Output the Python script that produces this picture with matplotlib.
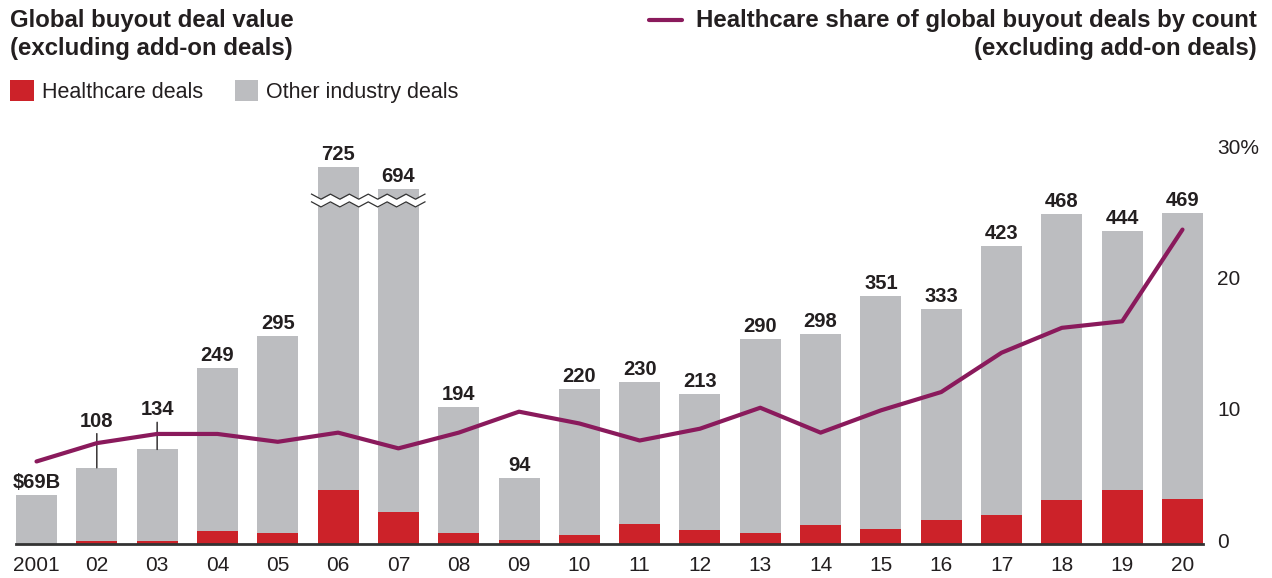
import numpy as np
import matplotlib.pyplot as plt
from matplotlib.patches import Rectangle
from matplotlib.lines import Line2D
from matplotlib.transforms import ScaledTranslation

plt.rcParams['font.family'] = ['Liberation Sans', 'DejaVu Sans']

# data
years = ['2001', '02', '03', '04', '05', '06', '07', '08', '09', '10',
         '11', '12', '13', '14', '15', '16', '17', '18', '19', '20']
total_value = [69, 108, 134, 249, 295, 725, 694, 194, 94, 220,
               230, 213, 290, 298, 351, 333, 423, 468, 444, 469]
healthcare_value = [0, 4, 4, 19, 16, 76, 46, 15, 5, 13,
                    29, 20, 15, 27, 21, 34, 41, 63, 77, 64]
healthcare_share = [6.3, 7.7, 8.4, 8.4, 7.8, 8.5, 7.3, 8.5, 10.1, 9.2,
                    7.9, 8.8, 10.4, 8.5, 10.2, 11.6, 14.6, 16.5, 17.0, 24.0]
value_labels = ['$69B', '108', '134', '249', '295', '725', '694', '194', '94', '220',
                '230', '213', '290', '298', '351', '333', '423', '468', '444', '469']

RED = '#CC2229'
GRAY = '#BCBDC0'
PURPLE = '#8A1A5C'
TXT = '#231F20'

W, H = 1272, 578
fig = plt.figure(figsize=(W / 100, H / 100), dpi=100)

# axis break: bars above the threshold are drawn shorter by `cut`
cut = 190
break_at = 487
total = np.array(total_value, dtype=float)
hc = np.array(healthcare_value, dtype=float)
drawn = np.where(total > 600, total - cut, total)
x = np.arange(len(years))
bw = 0.68

ax = fig.add_axes([16 / W, 1 - 544 / H, (1203 - 16) / W, (544 - 130) / H])
ax.bar(x, hc, width=bw, color=RED, zorder=2)
ax.bar(x, drawn - hc, bottom=hc, width=bw, color=GRAY, zorder=2)
ax.set_xlim(-bw / 2, len(years) - 1 + bw / 2)
ax.set_ylim(0, 587)
for s in ['top', 'left', 'right']:
    ax.spines[s].set_visible(False)
ax.spines['bottom'].set_color('#333333')
ax.spines['bottom'].set_linewidth(2)
ax.spines['bottom'].set_zorder(5)
ax.set_yticks([])
ax.set_xticks(x, years)
ax.tick_params(axis='x', length=0, pad=8.5, labelsize=15, labelcolor=TXT)

# value labels, 02 and 03 lifted with leader lines
lift = {1: 37, 2: 30}
for i, lab in enumerate(value_labels):
    off = lift.get(i, 3)
    kw = {}
    if i in lift:
        kw['arrowprops'] = dict(arrowstyle='-', color=TXT, lw=1, shrinkA=0, shrinkB=0)
    ax.annotate(lab, (i, drawn[i]), xytext=(0, off * 0.72), textcoords='offset points',
                ha='center', va='bottom', fontsize=14.5, fontweight='bold', color=TXT,
                zorder=6, **kw)

# break marker across the two tall bars
xb = np.linspace(5 - bw / 2 - 0.1, 6 + bw / 2 + 0.1, 13)
amp = 3.6
zig = np.where(np.arange(len(xb)) % 2 == 0, amp, -amp)
upper = break_at + 5.5 + zig
lower = break_at - 5.5 + zig
ax.fill_between(xb, lower, upper, color='white', zorder=3, lw=0)
ax.plot(xb, upper, color='#333333', lw=0.9, zorder=4)
ax.plot(xb, lower, color='#333333', lw=0.9, zorder=4)

# share line on right axis
ax2 = ax.twinx()
ax2.plot(x, healthcare_share, color=PURPLE, lw=3, solid_capstyle='round', zorder=5)
ax2.set_ylim(0, 31.6)
for s in ax2.spines.values():
    s.set_visible(False)
ax2.set_yticks([0, 10, 20, 30], ['0', '10', '20', '30%'])
ax2.tick_params(axis='y', length=0, pad=10, labelsize=15, labelcolor=TXT)
for lbl in ax2.get_yticklabels():
    lbl.set_transform(lbl.get_transform() + ScaledTranslation(0, 4 / 100, fig.dpi_scale_trans))

# titles and legends
fig.text(10 / W, 1 - 27 / H, 'Global buyout deal value', fontsize=17.3, fontweight='bold',
         color=TXT, va='baseline')
fig.text(10 / W, 1 - 55 / H, '(excluding add-on deals)', fontsize=17.3, fontweight='bold',
         color=TXT, va='baseline')
fig.text(1257 / W, 1 - 27 / H, 'Healthcare share of global buyout deals by count',
         fontsize=17.3, fontweight='bold', color=TXT, va='baseline', ha='right')
fig.text(1257 / W, 1 - 55 / H, '(excluding add-on deals)',
         fontsize=17.3, fontweight='bold', color=TXT, va='baseline', ha='right')
fig.add_artist(Line2D([649 / W, 682 / W], [1 - 20 / H, 1 - 20 / H], color=PURPLE, lw=3,
                      solid_capstyle='round'))

fig.add_artist(Rectangle((10 / W, 1 - 101 / H), 24 / W, 21 / H, color=RED, lw=0))
fig.text(42 / W, 1 - 98 / H, 'Healthcare deals', fontsize=15.5, color=TXT, va='baseline')
fig.add_artist(Rectangle((235 / W, 1 - 101 / H), 23 / W, 21 / H, color=GRAY, lw=0))
fig.text(266 / W, 1 - 98 / H, 'Other industry deals', fontsize=15.5, color=TXT, va='baseline')

fig.savefig('out.png', dpi=100)
